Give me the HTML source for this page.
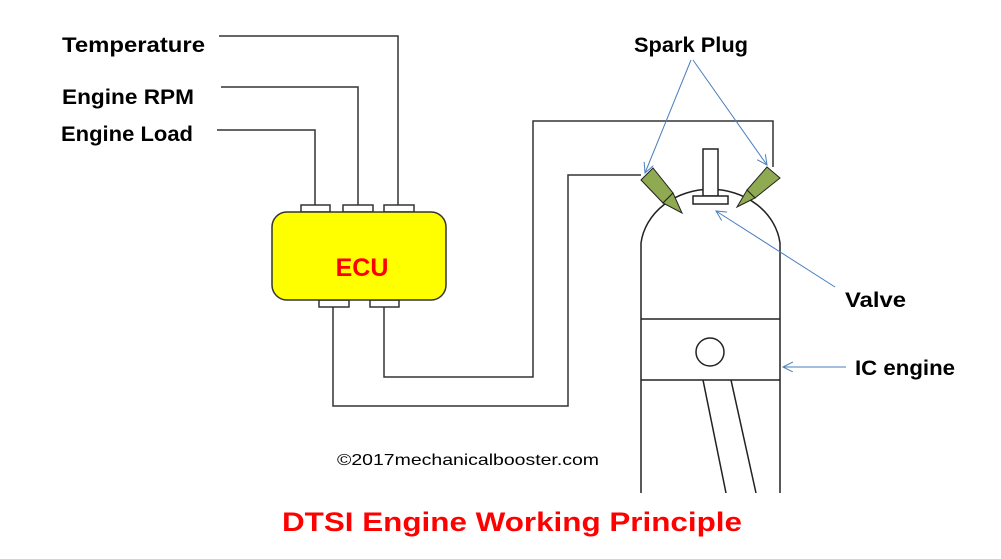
<!DOCTYPE html>
<html><head><meta charset="utf-8"><style>
html,body{margin:0;padding:0;background:#fff}
svg{display:block}
text{font-family:"Liberation Sans",sans-serif;font-weight:bold}
</style></head><body>
<svg width="1001" height="559" viewBox="0 0 1001 559" xmlns="http://www.w3.org/2000/svg">
<defs>
<marker id="a" markerWidth="12" markerHeight="12" refX="10" refY="5" orient="auto" markerUnits="userSpaceOnUse">
<path d="M0,0 L10,5 L0,10" fill="none" stroke="#4a7ebb" stroke-width="1"/>
</marker>
</defs>
<g fill="none" stroke="#333" stroke-width="1.5">
<polyline points="219,36 398,36 398,205"/>
<polyline points="221,87 358,87 358,205"/>
<polyline points="217,130 315,130 315,205"/>
<polyline points="384,307 384,377 533,377 533,121 773,121 773,167"/>
<polyline points="333,307 333,406 568,406 568,175 641,175"/>
</g>
<g fill="#fff" stroke="#333" stroke-width="1.5">
<rect x="301" y="205" width="29" height="7"/>
<rect x="343" y="205" width="30" height="7"/>
<rect x="384" y="205" width="30" height="7"/>
<rect x="319" y="300" width="30" height="7"/>
<rect x="370" y="300" width="29" height="7"/>
</g>
<rect x="272" y="212" width="174" height="88" rx="15" fill="#ffff00" stroke="#333" stroke-width="1.5"/>
<text x="362" y="276" font-size="25" fill="#ff0000" text-anchor="middle">ECU</text>
<g fill="none" stroke="#222" stroke-width="1.5">
<path d="M641,493 L641,243 A70,61 0 0 1 780,243 L780,493"/>
<line x1="641" y1="319" x2="780" y2="319"/>
<line x1="641" y1="380" x2="780" y2="380"/>
<circle cx="710" cy="352" r="14"/>
<line x1="703" y1="380" x2="726" y2="493"/>
<line x1="731" y1="380" x2="756" y2="493"/>
</g>
<rect x="703" y="149" width="15" height="47" fill="#fff" stroke="#222" stroke-width="1.5"/>
<rect x="693" y="196" width="35" height="8" fill="#fff" stroke="#222" stroke-width="1.5"/>
<g fill="#8faa50" stroke="#222" stroke-width="1">
<polygon points="641,180 653,168 673,193 663,203"/>
<polygon points="663,203 673,193 682,213"/>
<polygon points="767,167 780,178 755,198 747,190"/>
<polygon points="747,190 755,198 737,207"/>
</g>
<g stroke="#4a7ebb" stroke-width="1" fill="none">
<line x1="691" y1="60" x2="645" y2="173" marker-end="url(#a)"/>
<line x1="693" y1="60" x2="767" y2="165" marker-end="url(#a)"/>
<line x1="835" y1="287" x2="716" y2="211" marker-end="url(#a)"/>
<line x1="846" y1="367" x2="783" y2="367" marker-end="url(#a)"/>
</g>
<text x="62" y="52" font-size="21" textLength="143" lengthAdjust="spacingAndGlyphs">Temperature</text>
<text x="62" y="104" font-size="21" textLength="132" lengthAdjust="spacingAndGlyphs">Engine RPM</text>
<text x="61" y="141" font-size="21" textLength="132" lengthAdjust="spacingAndGlyphs">Engine Load</text>
<text x="634" y="52" font-size="21" textLength="114" lengthAdjust="spacingAndGlyphs">Spark Plug</text>
<text x="845" y="307" font-size="21" textLength="61" lengthAdjust="spacingAndGlyphs">Valve</text>
<text x="855" y="375" font-size="21" textLength="100" lengthAdjust="spacingAndGlyphs">IC engine</text>
<text x="337" y="465" font-size="16" font-weight="normal" style="font-weight:normal" textLength="262" lengthAdjust="spacingAndGlyphs">©2017mechanicalbooster.com</text>
<text x="282" y="531" font-size="27" fill="#ff0000" textLength="460" lengthAdjust="spacingAndGlyphs">DTSI Engine Working Principle</text>
</svg>
</body></html>
